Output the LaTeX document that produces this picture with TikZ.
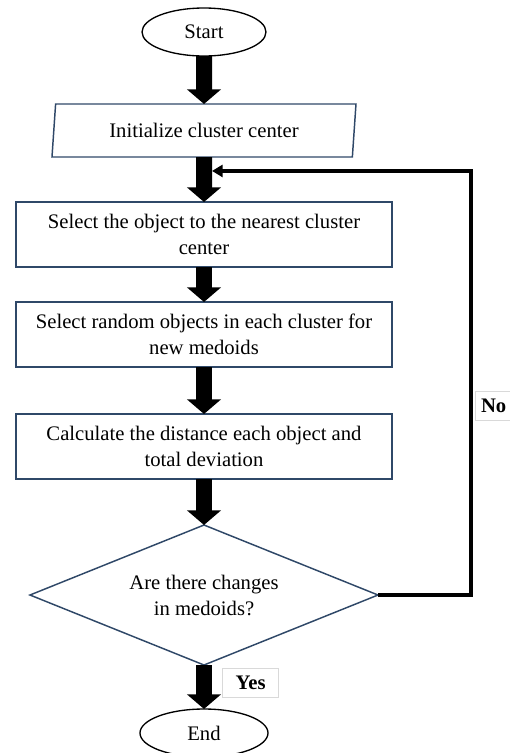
\documentclass[tikz,border=0pt]{standalone}
\usepackage{fontspec}
\setmainfont{Liberation Serif}
\definecolor{azulosc}{RGB}{47,72,104}
\definecolor{gris85}{gray}{.85}
\usepackage{tikz}
\usetikzlibrary{positioning,arrows.meta,shapes.geometric,calc}

\begin{document}
\begin{tikzpicture}[
    font=\fontsize{15.5}{19.5}\selectfont,
    outer sep=0pt,
    terminal/.style={ellipse, draw=black, line width=1pt, minimum width=93pt,
      minimum height=36pt, inner sep=0pt},
    io/.style={trapezium, trapezium left angle=76, trapezium right angle=104,
      trapezium stretches body, draw=azulosc, line width=1.1pt,
      minimum width=228pt, minimum height=39.75pt, inner sep=0pt},
    stage/.style={rectangle, draw=azulosc, line width=1.1pt, align=center,
      minimum width=282pt, minimum height=48.75pt, inner sep=0pt},
    test/.style={diamond, draw=azulosc, line width=1.1pt, align=center, aspect=2.5,
      minimum width=261pt, minimum height=105pt, inner sep=0pt},
    tag/.style={rectangle, draw=gris85, line width=.6pt,
      font=\fontsize{15.5}{19.5}\selectfont\bfseries,
      minimum width=42pt, minimum height=21.75pt},
    flow/.style={line width=12pt, -{Triangle[length=11pt,width=25pt]}},
    feedback/.style={line width=3pt, -{Triangle[length=8pt,width=9pt]}}
  ]
    \useasboundingbox (0,0) rectangle (382.5pt,-564.75pt);

    \node[terminal] (start) at (153pt,-24pt) {Start};
    \node[io, below=36pt of start] (init) {Initialize cluster center};
    \node[stage, below=33.75pt of init] (sel) {Select the object to the nearest cluster\\center};
    \node[stage, below=26.25pt of sel] (rand) {Select random objects in each cluster for\\new medoids};
    \node[stage, below=35.25pt of rand] (dist) {Calculate the distance each object and\\total deviation};
    \node[test, below=34.5pt of dist] (chg) {Are there changes\\in medoids?};
    \node[terminal, below=33pt of chg, minimum width=96pt] (stop) {End};

    \draw[flow] (start) -- (init);
    \draw[flow] (init) -- (sel);
    \draw[flow] (sel) -- (rand);
    \draw[flow] (rand) -- (dist);
    \draw[flow] (dist) -- (chg);
    \draw[flow] (chg) -- (stop);

    % back to the selection step
    \coordinate (join) at ($(init.south)!0.31!(sel.north)+(6pt,0)$);
    \draw[feedback] (chg.east) -- ++(69.75pt,0) |- (join);

    \node[tag] (yes) at ($(chg.south)!0.5!(stop.north)+(35pt,3pt)$) {Yes};
    \node[tag, anchor=west, minimum width=0pt, inner xsep=4.5pt, text width=30pt, align=left]
      (no) at ([xshift=72.75pt,yshift=142pt]chg.east) {No};
  \end{tikzpicture}
\end{document}
